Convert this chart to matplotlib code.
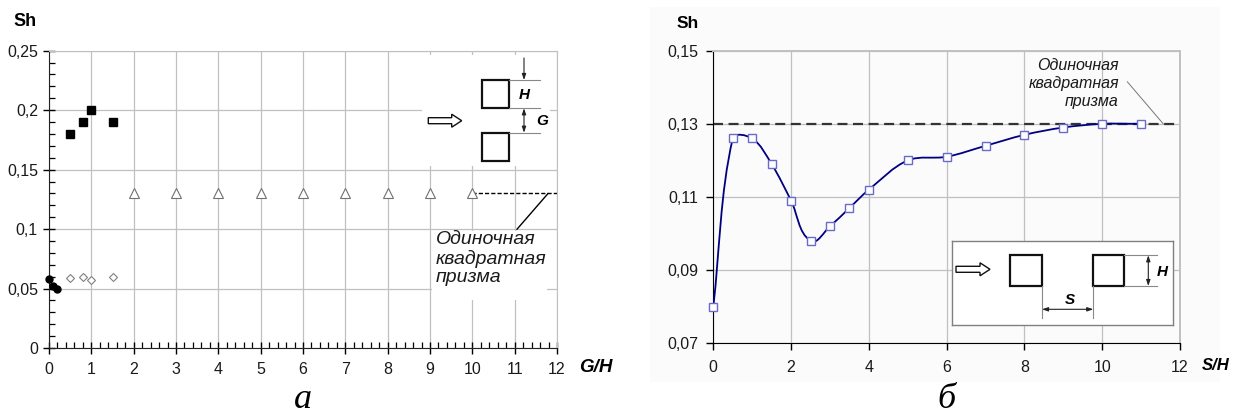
import numpy as np
import matplotlib
matplotlib.use("Agg")
import matplotlib.pyplot as plt
from matplotlib.path import Path
from matplotlib.patches import PathPatch, Rectangle, FancyArrow
from matplotlib.ticker import MultipleLocator

plt.rcParams['font.family'] = ['Liberation Sans', 'DejaVu Sans']

# --- data, panel a (two prisms side by side, gap G) ---
gap_circle_x = [0, 0.1, 0.2]
gap_circle_sh = [0.058, 0.052, 0.050]
gap_square_x = [0.5, 0.8, 1.0, 1.5]
gap_square_sh = [0.18, 0.19, 0.20, 0.19]
gap_diamond_x = [0.5, 0.8, 1.0, 1.5]
gap_diamond_sh = [0.059, 0.060, 0.057, 0.060]
gap_tri_x = [2, 3, 4, 5, 6, 7, 8, 9, 10]
gap_tri_sh = [0.13, 0.13, 0.13, 0.13, 0.13, 0.13, 0.13, 0.13, 0.13]

# --- data, panel б (tandem prisms, spacing S) ---
tandem_x = [0, 0.5, 1, 1.5, 2, 2.5, 3, 3.5, 4, 5, 6, 7, 8, 9, 10, 11]
tandem_sh = [0.080, 0.126, 0.126, 0.119, 0.109, 0.098, 0.102, 0.107, 0.112,
             0.120, 0.121, 0.124, 0.127, 0.129, 0.130, 0.130]

single_sh = 0.13  # single square prism

ticks_a_y = [0, 0.05, 0.1, 0.15, 0.2, 0.25]
ticks_a_ylab = ['0', '0,05', '0,1', '0,15', '0,2', '0,25']
ticks_b_y = [0.07, 0.09, 0.11, 0.13, 0.15]
ticks_b_ylab = ['0,07', '0,09', '0,11', '0,13', '0,15']
label_text = 'Одиночная\nквадратная\nпризма'

W, H = 1233, 418
fig = plt.figure(figsize=(W / 100, H / 100), dpi=100)


def px_axes(x0, y0, x1, y1):
    # box given in picture pixels (top-left origin)
    return fig.add_axes([x0 / W, 1 - y1 / H, (x1 - x0) / W, (y1 - y0) / H])


def smooth_path(ax, x, y):
    # smoothed line like a spreadsheet chart: Bezier through the points,
    # control arms worked out in screen space, a third of each segment long
    p = ax.transData.transform(np.column_stack([x, y]))
    n = len(p)
    tang = []
    for i in range(n):
        d = p[min(i + 1, n - 1)] - p[max(i - 1, 0)]
        tang.append(d / np.hypot(*d))
    verts = [p[0]]
    codes = [Path.MOVETO]
    for i in range(n - 1):
        seg = np.hypot(*(p[i + 1] - p[i])) / 3
        verts += [p[i] + tang[i] * seg, p[i + 1] - tang[i + 1] * seg, p[i + 1]]
        codes += [Path.CURVE4] * 3
    verts = ax.transData.inverted().transform(np.array(verts))
    return Path(verts, codes)


grid_col = '#c0c0c0'
text_col = '#1a1a1a'

# faint grey background behind panel б
fig.patches.append(Rectangle((650 / W, 1 - 382 / H), 570 / W, 375 / H,
                             transform=fig.transFigure, facecolor='#fbfbfb',
                             edgecolor='none', zorder=-1))

# ================= panel a =================
ax1 = px_axes(49, 50.7, 557, 348)
ax1.set_xlim(0, 12)
ax1.set_ylim(0, 0.25)
ax1.set_axisbelow(True)
ax1.grid(True, color=grid_col, lw=0.9)
ax1.set_xticks(range(13))
ax1.set_yticks(ticks_a_y)
ax1.set_yticklabels(ticks_a_ylab)
ax1.xaxis.set_minor_locator(MultipleLocator(0.2))
ax1.yaxis.set_minor_locator(MultipleLocator(0.01))
ax1.tick_params(which='major', direction='inout', length=8, width=1,
                labelsize=11.5, labelcolor=text_col)
ax1.tick_params(axis='y', which='major', pad=4)
ax1.tick_params(axis='x', which='major', pad=6)
ax1.tick_params(which='minor', direction='in', length=4, width=0.9)
for s in ['top', 'right']:
    ax1.spines[s].set_color(grid_col)
for s in ['left', 'bottom']:
    ax1.spines[s].set_color('#222222')

ax1.plot(gap_circle_x, gap_circle_sh, 'o', color='black', ms=5,
         clip_on=False, zorder=4)
ax1.plot(gap_square_x, gap_square_sh, 's', color='black', ms=5.5, zorder=4)
ax1.plot(gap_diamond_x, gap_diamond_sh, 'D', mfc='white', mec='#808080',
         ms=3.8, mew=0.8, zorder=4)
ax1.plot(gap_tri_x, gap_tri_sh, '^', mfc='white', mec='#707070',
         ms=6.5, mew=0.8, zorder=4)
ax1.hlines(single_sh, 10, 12, colors='black', lw=1,
           linestyles=(0, (3, 1.5)), zorder=3)

# white box behind label text
ax1.add_patch(Rectangle((0.753, 0.161), 0.227, 0.232, transform=ax1.transAxes,
                        facecolor='white', edgecolor='none', zorder=1))
ax1.text(0.762, 0.393, label_text, transform=ax1.transAxes, ha='left',
         va='top', fontsize=14, style='italic', color=text_col,
         linespacing=1.12, zorder=5)
ax1.annotate('', xy=(11.79, single_sh), xytext=(0.921, 0.399),
             textcoords='axes fraction',
             arrowprops=dict(arrowstyle='-', lw=1, color='black',
                             shrinkA=0, shrinkB=0), zorder=5)

fig.text(25 / W, 1 - 21 / H, 'Sh', ha='center', va='center', fontsize=13,
         fontweight='bold')
fig.text(579 / W, 1 - 368 / H, 'G/H', ha='left', va='center', fontsize=13.5,
         fontweight='bold', style='italic')

# inset sketch, panel a
in1 = px_axes(421.7, 55, 550, 166)
in1.set_xlim(421.7, 550)
in1.set_ylim(166, 55)
in1.axis('off')
in1.add_patch(Rectangle((421.7, 55), 128.3, 111, facecolor='white',
                        edgecolor='none', zorder=0))
for top in [80, 132.7]:
    in1.add_patch(Rectangle((481.7, top), 27.6, 28.2, facecolor='none',
                            edgecolor='#111111', lw=1.6))
for yy in [80, 108.3, 132.7]:
    in1.plot([509.3, 540], [yy, yy], color='#888888', lw=0.8)
in1.annotate('', xy=(524, 80), xytext=(524, 58),
             arrowprops=dict(arrowstyle='-|>,head_length=0.35,head_width=0.12',
                             lw=0.8, color='#222222', shrinkA=0, shrinkB=0))
in1.annotate('', xy=(524, 108.3), xytext=(524, 132.7),
             arrowprops=dict(arrowstyle='<|-|>,head_length=0.35,head_width=0.12',
                             lw=0.8, color='#222222', shrinkA=0, shrinkB=0))
in1.text(524.5, 95, 'H', ha='center', va='center', fontsize=11,
         fontweight='bold', style='italic')
in1.text(542, 121, 'G', ha='center', va='center', fontsize=11,
         fontweight='bold', style='italic')
in1.add_patch(FancyArrow(428.3, 120.7, 33.4, 0, width=6, head_width=13,
                         head_length=10, length_includes_head=True,
                         facecolor='white', edgecolor='#111111', lw=1))

# ================= panel б =================
ax2 = px_axes(713.3, 50.7, 1180, 343.3)
ax2.set_facecolor('none')
ax2.set_xlim(0, 12)
ax2.set_ylim(0.07, 0.15)
ax2.set_axisbelow(True)
ax2.grid(True, color=grid_col, lw=0.9)
ax2.set_xticks(range(0, 13, 2))
ax2.set_yticks(ticks_b_y)
ax2.set_yticklabels(ticks_b_ylab)
ax2.tick_params(direction='out', length=5, width=1, labelsize=11.5,
                labelcolor=text_col)
ax2.tick_params(axis='y', pad=6)
ax2.tick_params(axis='x', pad=7)
for s in ['top', 'right']:
    ax2.spines[s].set_color(grid_col)
    ax2.spines[s].set_linewidth(1.4)

ax2.axhline(single_sh, color='#333333', lw=1.6, ls=(0, (4.5, 2.5)), zorder=2)
ax2.add_patch(PathPatch(smooth_path(ax2, tandem_x, tandem_sh),
                        facecolor='none', edgecolor='#000080', lw=1.3,
                        zorder=3))
ax2.plot(tandem_x, tandem_sh, 's', mfc='white', mec='#6a6ac8', ms=6,
         mew=1, ls='none', clip_on=False, zorder=4)

ax2.text(0.869, 0.976, label_text, transform=ax2.transAxes, ha='right',
         va='top', fontsize=11.5, style='italic', color=text_col,
         linespacing=1.25)
ax2.annotate('', xy=(11.57, single_sh), xytext=(0.887, 0.894),
             textcoords='axes fraction',
             arrowprops=dict(arrowstyle='-', lw=0.7, color='#777777',
                             shrinkA=0, shrinkB=0))

fig.text(688 / W, 1 - 24 / H, 'Sh', ha='center', va='center', fontsize=12.5,
         fontweight='bold')
fig.text(1202 / W, 1 - 365 / H, 'S/H', ha='left', va='center', fontsize=12,
         fontweight='bold', style='italic')

# inset sketch, panel б
in2 = px_axes(951.7, 240.7, 1173.3, 325)
in2.set_xlim(951.7, 1173.3)
in2.set_ylim(325, 240.7)
in2.set_xticks([])
in2.set_yticks([])
for s in in2.spines.values():
    s.set_color('#808080')
    s.set_linewidth(1)
in2.add_patch(FancyArrow(956, 269.3, 34, 0, width=6, head_width=13,
                         head_length=10, length_includes_head=True,
                         facecolor='white', edgecolor='#111111', lw=1))
in2.add_patch(Rectangle((1010, 255.3), 32, 30.7, facecolor='none',
                        edgecolor='#111111', lw=1.6))
in2.add_patch(Rectangle((1093.3, 255.3), 31, 30.7, facecolor='none',
                        edgecolor='#111111', lw=1.6))
for yy in [255.3, 286]:
    in2.plot([1124.3, 1156.7], [yy, yy], color='#888888', lw=0.8)
for xx in [1042, 1093.3]:
    in2.plot([xx, xx], [286, 318], color='#888888', lw=0.8)
in2.annotate('', xy=(1148.3, 255.3), xytext=(1148.3, 286),
             arrowprops=dict(arrowstyle='<|-|>,head_length=0.35,head_width=0.12',
                             lw=0.8, color='#222222', shrinkA=0, shrinkB=0))
in2.annotate('', xy=(1042, 309.3), xytext=(1093.3, 309.3),
             arrowprops=dict(arrowstyle='<|-|>,head_length=0.35,head_width=0.12',
                             lw=0.8, color='#222222', shrinkA=0, shrinkB=0))
in2.text(1162, 271.7, 'H', ha='center', va='center', fontsize=11,
         fontweight='bold', style='italic')
in2.text(1070, 300, 'S', ha='center', va='center', fontsize=11,
         fontweight='bold', style='italic')

# panel letters
fig.text(303 / W, 1 - 408 / H, 'а', ha='center', va='baseline', fontsize=26,
         family=['Liberation Serif', 'DejaVu Serif'], style='italic')
fig.text(946 / W, 1 - 408 / H, 'б', ha='center', va='baseline', fontsize=26,
         family=['Liberation Serif', 'DejaVu Serif'], style='italic')

fig.savefig('out.png', dpi=100)
